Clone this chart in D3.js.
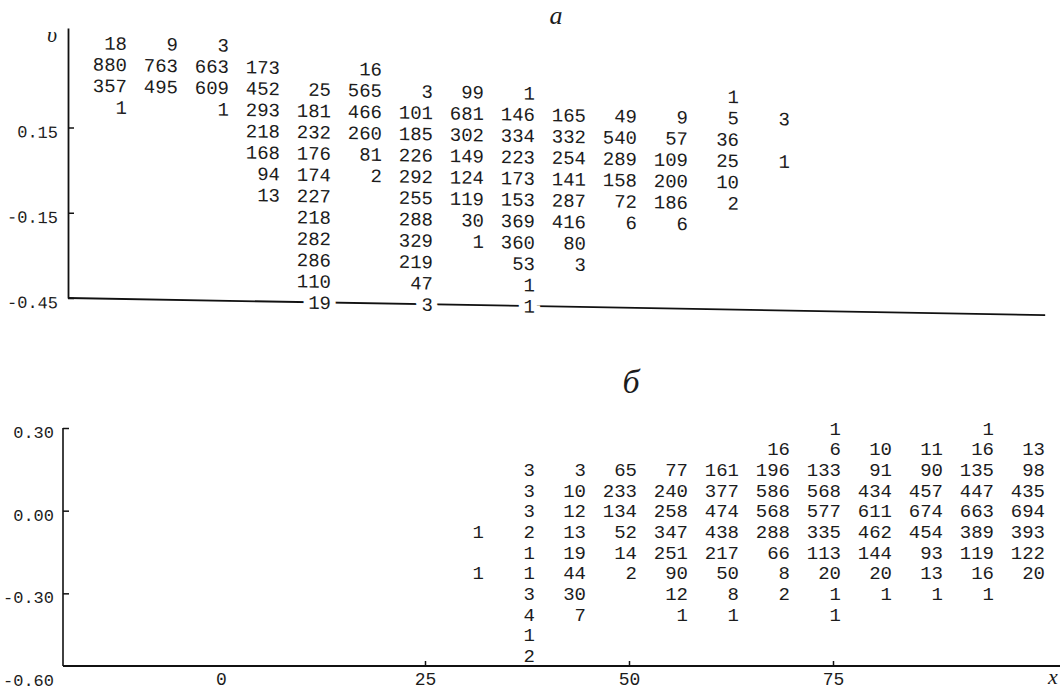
<!DOCTYPE html>
<html>
<head>
<meta charset="utf-8">
<script src="https://cdn.jsdelivr.net/npm/d3@7"></script>
<style>
  body { margin: 0; background: #fff; }
  svg { display: block; background: #fff; }
  .num { font-family: "Courier New", Courier, "Liberation Mono", monospace; font-size: 19px; fill: #1c1c1c; }
  .tick text { font-family: "Courier New", Courier, "Liberation Mono", monospace; font-size: 17px; fill: #1c1c1c; }
  .ttl { font-family: "Liberation Serif", "Times New Roman", serif; font-style: italic; fill: #1c1c1c; }
</style>
</head>
<body>
<script>
const _ = null;

// panel a: column x values, row v values, counts (rows top to bottom)
const colsA = [-12.5, -6.25, 0, 6.25, 12.5, 18.75, 25, 31.25, 37.5, 43.75, 50, 56.25, 62.5, 68.75];
const rowsA = [0.45, 0.375, 0.30, 0.225, 0.15, 0.075, 0, -0.075, -0.15, -0.225, -0.30, -0.375, -0.45];
const countsA = [
  [ 18,   9,   3,   _,   _,   _,   _,   _,   _,   _,   _,   _,   _,   _],
  [880, 763, 663, 173,   _,  16,   _,   _,   _,   _,   _,   _,   _,   _],
  [357, 495, 609, 452,  25, 565,   3,  99,   1,   _,   _,   _,   1,   _],
  [  1,   _,   1, 293, 181, 466, 101, 681, 146, 165,  49,   9,   5,   3],
  [  _,   _,   _, 218, 232, 260, 185, 302, 334, 332, 540,  57,  36,   _],
  [  _,   _,   _, 168, 176,  81, 226, 149, 223, 254, 289, 109,  25,   1],
  [  _,   _,   _,  94, 174,   2, 292, 124, 173, 141, 158, 200,  10,   _],
  [  _,   _,   _,  13, 227,   _, 255, 119, 153, 287,  72, 186,   2,   _],
  [  _,   _,   _,   _, 218,   _, 288,  30, 369, 416,   6,   6,   _,   _],
  [  _,   _,   _,   _, 282,   _, 329,   1, 360,  80,   _,   _,   _,   _],
  [  _,   _,   _,   _, 286,   _, 219,   _,  53,   3,   _,   _,   _,   _],
  [  _,   _,   _,   _, 110,   _,  47,   _,   1,   _,   _,   _,   _,   _],
  [  _,   _,   _,   _,  19,   _,   3,   _,   1,   _,   _,   _,   _,   _]
];
const ticksA = [0.15, -0.15, -0.45];

// panel b
const colsB = [31.25, 37.5, 43.75, 50, 56.25, 62.5, 68.75, 75, 81.25, 87.5, 93.75, 100];
const rowsB = [0.30, 0.225, 0.15, 0.075, 0, -0.075, -0.15, -0.225, -0.30, -0.375, -0.45, -0.525];
const countsB = [
  [  _,   _,   _,   _,   _,   _,   _,   1,   _,   _,   1,   _],
  [  _,   _,   _,   _,   _,   _,  16,   6,  10,  11,  16,  13],
  [  _,   3,   3,  65,  77, 161, 196, 133,  91,  90, 135,  98],
  [  _,   3,  10, 233, 240, 377, 586, 568, 434, 457, 447, 435],
  [  _,   3,  12, 134, 258, 474, 568, 577, 611, 674, 663, 694],
  [  1,   2,  13,  52, 347, 438, 288, 335, 462, 454, 389, 393],
  [  _,   1,  19,  14, 251, 217,  66, 113, 144,  93, 119, 122],
  [  1,   1,  44,   2,  90,  50,   8,  20,  20,  13,  16,  20],
  [  _,   3,  30,   _,  12,   8,   2,   1,   1,   1,   1,   _],
  [  _,   4,   7,   _,   1,   1,   _,   1,   _,   _,   _,   _],
  [  _,   1,   _,   _,   _,   _,   _,   _,   _,   _,   _,   _],
  [  _,   2,   _,   _,   _,   _,   _,   _,   _,   _,   _,   _]
];
const ticksB = [0.30, 0, -0.30, -0.60];
const ticksX = [0, 25, 50, 75];

const width = 1062, height = 691;
const svg = d3.select("body").append("svg")
    .attr("width", width)
    .attr("height", height);

// shared x scale, separate v scales
const x = d3.scaleLinear().domain([0, 75]).range([221, 833]);
const yA = d3.scaleLinear().domain([0.5, -0.45]).range([28, 298]);
const yB = d3.scaleLinear().domain([0.30, -0.60]).range([428, 676]);
const axA = 68, axB = 63, baseB = 666;
const fmt = d => d.toFixed(2);

// flatten a table into cells
function cells(counts, cols, rows) {
  const out = [];
  counts.forEach((row, r) => row.forEach((v, c) => {
    if (v !== null) out.push({x: cols[c], y: rows[r], v: v, last: r === rows.length - 1});
  }));
  return out;
}

// ---- panel a (scan is slightly tilted)
const gA = svg.append("g")
    .attr("transform", `translate(${axA},0) skewY(1) translate(${-axA},0)`);

gA.append("line")
    .attr("x1", axA).attr("x2", x(101))
    .attr("y1", yA(-0.45)).attr("y2", yA(-0.45))
    .attr("stroke", "#111").attr("stroke-width", 1.8);

const yAxisA = gA.append("g")
    .attr("transform", `translate(${axA},0)`)
    .call(d3.axisLeft(yA).tickValues(ticksA).tickSize(-6).tickSizeOuter(0).tickPadding(10).tickFormat(fmt));
yAxisA.select(".domain").attr("stroke", "#111").attr("stroke-width", 1.8);
yAxisA.selectAll(".tick line").attr("stroke", "#111").attr("stroke-width", 1.5);
yAxisA.selectAll(".tick text").attr("dy", "0.6em");

gA.selectAll("text.num")
  .data(cells(countsA, colsA, rowsA))
  .join("text")
    .attr("class", "num")
    .attr("x", d => x(d.x) + 8)
    .attr("y", d => yA(d.y))
    .attr("dy", "0.35em")
    .attr("text-anchor", "end")
    .attr("stroke", d => d.last ? "#fff" : null)
    .attr("stroke-width", d => d.last ? 12 : null)
    .attr("paint-order", "stroke")
    .text(d => d.v);

svg.append("text").attr("class", "ttl")
    .attr("x", 52).attr("y", 42)
    .attr("font-size", 22)
    .attr("text-anchor", "middle")
    .text("υ");

svg.append("text").attr("class", "ttl")
    .attr("x", 556).attr("y", 24)
    .attr("font-size", 26)
    .attr("text-anchor", "middle")
    .text("а");

// ---- panel b
svg.append("text").attr("class", "ttl")
    .attr("x", 631).attr("y", 393)
    .attr("font-size", 34)
    .attr("text-anchor", "middle")
    .text("б");

const yAxisB = svg.append("g")
    .attr("transform", `translate(${axB},0)`)
    .call(d3.axisLeft(yB).tickValues(ticksB).tickSize(-6).tickSizeOuter(0).tickPadding(9).tickFormat(fmt));
yAxisB.select(".domain").remove();
yAxisB.selectAll(".tick line").attr("stroke", "#111").attr("stroke-width", 1.5)
    .filter(d => d === -0.60).remove();
yAxisB.selectAll(".tick text").attr("dy", "0.55em");
yAxisB.append("line")
    .attr("x1", 0).attr("x2", 0)
    .attr("y1", yB(0.30)).attr("y2", baseB)
    .attr("stroke", "#111").attr("stroke-width", 1.6);

const xAxisB = svg.append("g")
    .attr("transform", `translate(0,${baseB})`)
    .call(d3.axisBottom(x).tickValues(ticksX).tickSize(-5).tickSizeOuter(0).tickPadding(6).tickFormat(d3.format("d")));
xAxisB.select(".domain").remove();
xAxisB.selectAll(".tick line").attr("stroke", "#111").attr("stroke-width", 1.5)
    .filter(d => d === 0).remove();
xAxisB.selectAll(".tick text").style("font-size", "18px");
xAxisB.append("line")
    .attr("x1", axB).attr("x2", width - 2)
    .attr("y1", 0).attr("y2", 0)
    .attr("stroke", "#111").attr("stroke-width", 1.8);

svg.append("text").attr("class", "ttl")
    .attr("x", 1053).attr("y", 684)
    .attr("font-size", 22)
    .attr("text-anchor", "middle")
    .text("x");

svg.selectAll("text.num.b")
  .data(cells(countsB, colsB, rowsB))
  .join("text")
    .attr("class", "num b")
    .attr("x", d => x(d.x) + 8)
    .attr("y", d => yB(d.y))
    .attr("dy", "0.35em")
    .attr("text-anchor", "end")
    .text(d => d.v);
</script>
</body>
</html>
